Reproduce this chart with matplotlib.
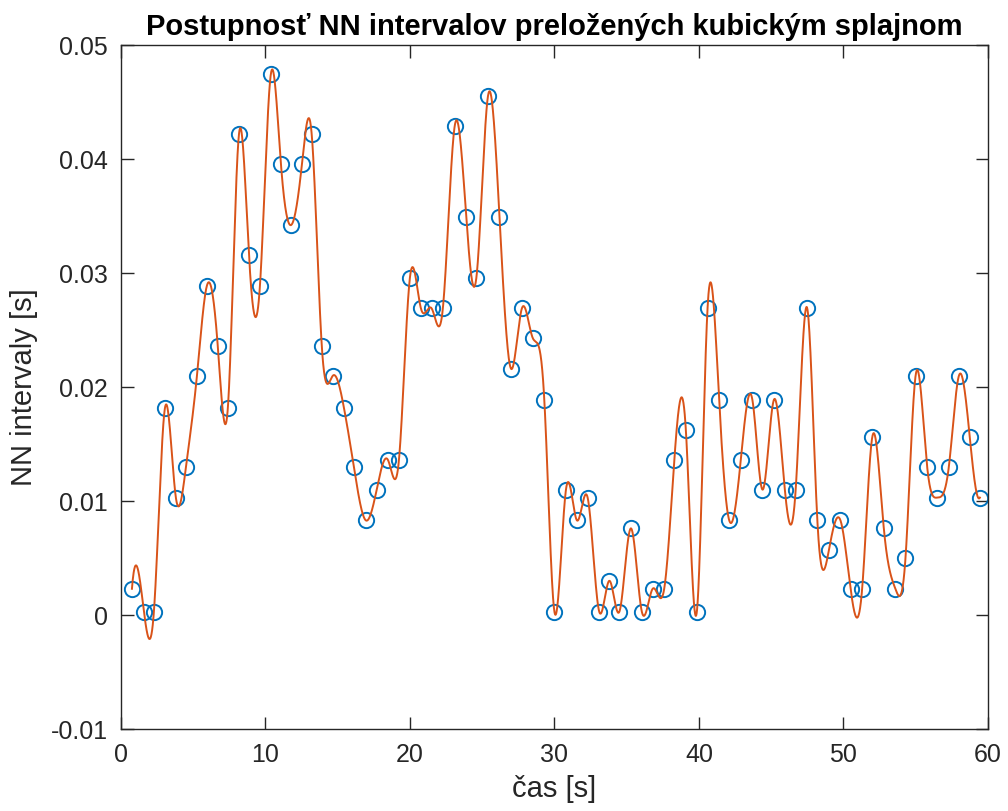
import numpy as np
import matplotlib
matplotlib.use("Agg")
import matplotlib.pyplot as plt

# casy R-vrcholov [s] a NN intervaly [s]
cas = [0.76, 1.59, 2.28, 3.05, 3.80, 4.50, 5.26, 5.95, 6.70, 7.40,
       8.17, 8.86, 9.62, 10.38, 11.07, 11.76, 12.53, 13.20, 13.90, 14.67,
       15.43, 16.12, 16.95, 17.70, 18.48, 19.24, 20.00, 20.76, 21.50, 22.28,
       23.10, 23.90, 24.60, 25.40, 26.20, 27.00, 27.75, 28.50, 29.30, 30.00,
       30.80, 31.56, 32.30, 33.10, 33.80, 34.50, 35.30, 36.05, 36.80, 37.60,
       38.30, 39.10, 39.86, 40.60, 41.40, 42.10, 42.90, 43.70, 44.40, 45.20,
       45.95, 46.70, 47.50, 48.20, 49.00, 49.80, 50.50, 51.30, 52.00, 52.80,
       53.60, 54.30, 55.00, 55.80, 56.50, 57.30, 58.00, 58.75, 59.45]
nn = [0.0023, 0.0003, 0.0003, 0.0182, 0.0103, 0.0130, 0.0210, 0.0289, 0.0236, 0.0182,
      0.0422, 0.0316, 0.0289, 0.0475, 0.0396, 0.0342, 0.0396, 0.0422, 0.0236, 0.0210,
      0.0182, 0.0130, 0.0083, 0.0110, 0.0136, 0.0136, 0.0296, 0.0269, 0.0269, 0.0269,
      0.0429, 0.0349, 0.0296, 0.0455, 0.0349, 0.0216, 0.0269, 0.0243, 0.0189, 0.0003,
      0.0110, 0.0083, 0.0103, 0.0003, 0.0030, 0.0003, 0.0076, 0.0003, 0.0023, 0.0023,
      0.0136, 0.0162, 0.0003, 0.0269, 0.0189, 0.0083, 0.0136, 0.0189, 0.0110, 0.0189,
      0.0110, 0.0110, 0.0269, 0.0083, 0.0057, 0.0083, 0.0023, 0.0023, 0.0156, 0.0076,
      0.0023, 0.0050, 0.0210, 0.0130, 0.0103, 0.0130, 0.0210, 0.0156, 0.0103]


def kubicky_splajn(x, y, xx):
    # kubicky splajn s podmienkou not-a-knot (ako spline v MATLABe)
    x = np.asarray(x, float)
    y = np.asarray(y, float)
    n = len(x)
    h = np.diff(x)
    A = np.zeros((n, n))
    b = np.zeros(n)
    for i in range(1, n - 1):
        A[i, i - 1] = h[i - 1]
        A[i, i] = 2 * (h[i - 1] + h[i])
        A[i, i + 1] = h[i]
        b[i] = 6 * ((y[i + 1] - y[i]) / h[i] - (y[i] - y[i - 1]) / h[i - 1])
    A[0, 0] = h[1]
    A[0, 1] = -(h[0] + h[1])
    A[0, 2] = h[0]
    A[-1, -3] = h[-1]
    A[-1, -2] = -(h[-2] + h[-1])
    A[-1, -1] = h[-2]
    M = np.linalg.solve(A, b)

    k = np.clip(np.searchsorted(x, xx) - 1, 0, n - 2)
    hk = h[k]
    dl = xx - x[k]
    dr = x[k + 1] - xx
    return (M[k] * dr ** 3 / (6 * hk) + M[k + 1] * dl ** 3 / (6 * hk)
            + (y[k] / hk - M[k] * hk / 6) * dr
            + (y[k + 1] / hk - M[k + 1] * hk / 6) * dl)


t = np.linspace(cas[0], cas[-1], 4000)
s = kubicky_splajn(cas, nn, t)

plt.rcParams['font.family'] = ['Liberation Sans', 'DejaVu Sans']

fig = plt.figure(figsize=(10.08, 8.11), dpi=100)
ax = fig.add_axes([0.120, 0.1011, 0.860, 0.8434])

ax.plot(cas, nn, 'o', mfc='none', mec='#0072BD', ms=11, mew=1.4)
ax.plot(t, s, '-', color='#D95319', lw=1.4)

ax.set_xlim(0, 60)
ax.set_ylim(-0.01, 0.05)
ax.set_xticks(np.arange(0, 61, 10))
ax.set_yticks(np.arange(-0.01, 0.0501, 0.01))
ax.set_yticklabels(['-0.01', '0', '0.01', '0.02', '0.03', '0.04', '0.05'])

for sp in ax.spines.values():
    sp.set_color('#262626')
    sp.set_linewidth(1.0)
ax.tick_params(direction='in', length=9, width=1.0, colors='#262626',
               labelsize=18, top=True, right=True)
ax.tick_params(axis='x', pad=10)
ax.tick_params(axis='y', pad=9.5)

ax.set_xlabel('čas [s]', fontsize=21, color='#262626', labelpad=6)
ax.set_ylabel('NN intervaly [s]', fontsize=21, color='#262626', labelpad=9)
ax.set_title('Postupnosť NN intervalov preložených kubickým splajnom',
             fontsize=21, fontweight='bold', pad=7)

fig.savefig('out.png', dpi=100)
